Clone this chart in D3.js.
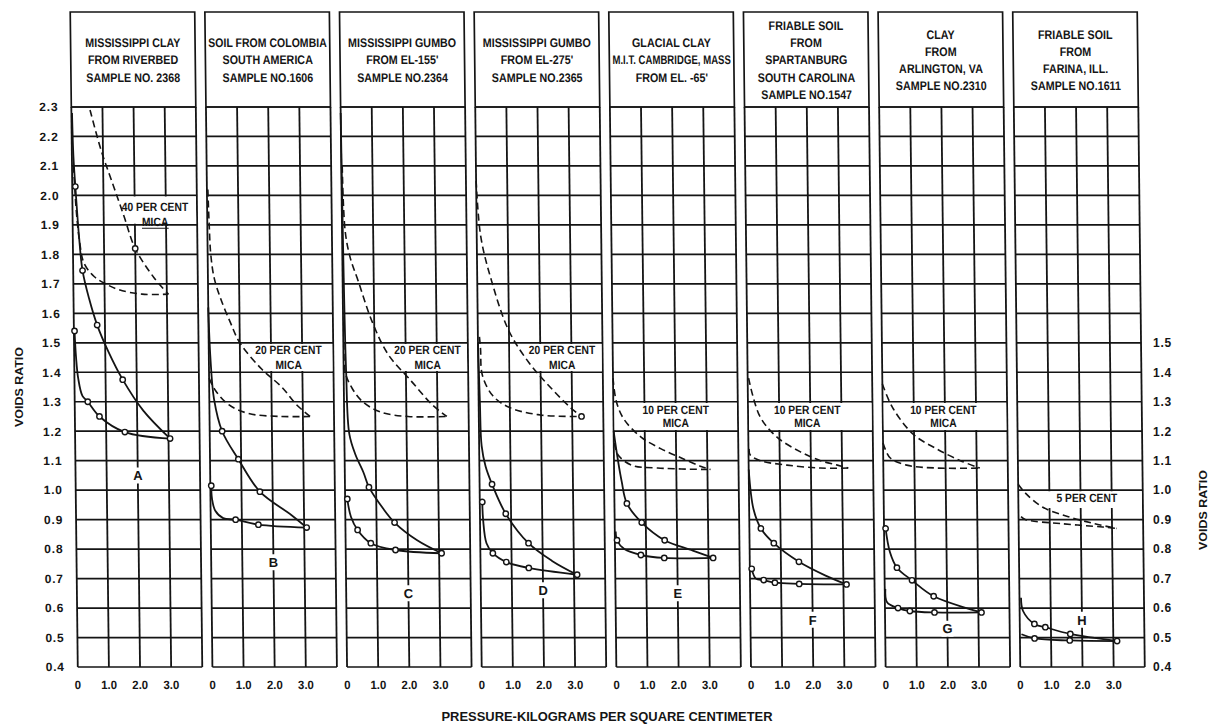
<!DOCTYPE html>
<html><head><meta charset="utf-8">
<script src="https://cdn.jsdelivr.net/npm/d3@7"></script>
<style>
body{margin:0;background:#fff}
svg{display:block}
text{font-family:"Liberation Sans",Arial,sans-serif;fill:#151515}
</style>
</head><body>
<svg id="c" width="1208" height="724"></svg>
<script>
// ---------- data ----------
const panelTitles = [
  ["MISSISSIPPI CLAY","FROM RIVERBED","SAMPLE  NO. 2368"],
  ["SOIL FROM COLOMBIA","SOUTH AMERICA","SAMPLE NO.1606"],
  ["MISSISSIPPI GUMBO","FROM EL-155'","SAMPLE NO.2364"],
  ["MISSISSIPPI GUMBO","FROM EL-275'","SAMPLE NO.2365"],
  ["GLACIAL CLAY","M.I.T. CAMBRIDGE, MASS","FROM EL. -65'"],
  ["FRIABLE SOIL","FROM","SPARTANBURG","SOUTH CAROLINA","SAMPLE NO.1547"],
  ["CLAY","FROM","ARLINGTON, VA","SAMPLE  NO.2310"],
  ["FRIABLE SOIL","FROM","FARINA, ILL.","SAMPLE NO.1611"]
];
const sampleLetters = ["A","B","C","D","E","F","G","H"];
const micaLabels = [
  ["40 PER CENT","MICA"],["20 PER CENT","MICA"],["20 PER CENT","MICA"],["20 PER CENT","MICA"],
  ["10 PER CENT","MICA"],["10 PER CENT","MICA"],["10 PER CENT","MICA"],["5 PER CENT"]
];
const leftTicks = [2.3,2.2,2.1,2.0,1.9,1.8,1.7,1.6,1.5,1.4,1.3,1.2,1.1,1.0,0.9,0.8,0.7,0.6,0.5,0.4];
const rightTicks = [1.5,1.4,1.3,1.2,1.1,1.0,0.9,0.8,0.7,0.6,0.5,0.4];
const pressureTicks = [0,1,2,3];
const pressureTickLabels = ["0","1.0","2.0","3.0"];

// solid curves (natural soil): upper branch and lower branch, with the plotted circles
const solidUpper = [
  [[0.02,2.28],[0.05,2.13],[0.1,2.03],[0.2,1.86],[0.3,1.745],[0.5,1.65],[0.75,1.56],[1.1,1.47],[1.55,1.375],[2.2,1.27],[3.05,1.175]],
  [[0.0,1.62],[0.05,1.45],[0.15,1.31],[0.4,1.20],[0.91,1.105],[1.59,0.995],[2.6,0.915],[3.08,0.873]],
  [[0.0,2.28],[0.03,1.8],[0.08,1.4],[0.16,1.19],[0.35,1.12],[0.6,1.06],[0.77,1.01],[1.2,0.94],[1.58,0.89],[2.3,0.83],[3.08,0.786]],
  [[0.0,1.5],[0.04,1.3],[0.08,1.15],[0.2,1.08],[0.4,1.02],[0.83,0.92],[1.55,0.82],[2.3,0.76],[3.1,0.713]],
  [[0.0,1.2],[0.13,1.1],[0.24,1.03],[0.4,0.955],[0.87,0.89],[1.6,0.83],[2.5,0.795],[3.15,0.77]],
  [[0.0,1.07],[0.14,0.935],[0.37,0.87],[0.78,0.82],[1.58,0.757],[2.43,0.71],[3.1,0.68]],
  [[0.05,0.87],[0.18,0.79],[0.4,0.737],[0.88,0.694],[1.57,0.64],[3.1,0.585]],
  [[0.05,0.635],[0.11,0.59],[0.47,0.546],[0.82,0.535],[1.62,0.512],[3.12,0.488]]
];
const solidUpperMarks = [
  [[0.1,2.03],[0.3,1.745],[0.75,1.56],[1.55,1.375],[3.05,1.175]],
  [[0.4,1.20],[0.91,1.105],[1.59,0.995],[3.08,0.873]],
  [[0.77,1.01],[1.58,0.89],[3.08,0.786]],
  [[0.4,1.02],[0.83,0.92],[1.55,0.82],[3.1,0.713]],
  [[0.4,0.955],[0.87,0.89],[1.6,0.83],[3.15,0.77]],
  [[0.37,0.87],[0.78,0.82],[1.58,0.757],[3.1,0.68]],
  [[0.05,0.87],[0.4,0.737],[0.88,0.694],[1.57,0.64],[3.1,0.585]],
  [[0.47,0.546],[0.82,0.535],[1.62,0.512],[3.12,0.488]]
];
const solidLower = [
  [[0.02,1.54],[0.06,1.45],[0.12,1.38],[0.25,1.32],[0.42,1.30],[0.79,1.25],[1.6,1.197],[3.05,1.175]],
  [[0.03,1.015],[0.05,0.97],[0.15,0.93],[0.4,0.905],[0.8,0.90],[1.53,0.883],[3.08,0.873]],
  [[0.07,0.97],[0.18,0.91],[0.39,0.865],[0.81,0.82],[1.6,0.797],[3.08,0.786]],
  [[0.08,0.96],[0.1,0.9],[0.2,0.82],[0.4,0.786],[0.83,0.756],[1.55,0.736],[3.1,0.713]],
  [[0.03,0.86],[0.07,0.83],[0.3,0.80],[0.83,0.78],[1.58,0.77],[3.15,0.77]],
  [[0.06,0.733],[0.19,0.70],[0.44,0.695],[0.8,0.686],[1.58,0.682],[3.1,0.68]],
  [[0.02,0.665],[0.07,0.62],[0.42,0.60],[0.8,0.59],[1.59,0.585],[3.1,0.585]],
  [[0.05,0.511],[0.47,0.497],[1.6,0.49],[3.12,0.488]]
];
const solidLowerMarks = [
  [[0.02,1.54],[0.42,1.30],[0.79,1.25],[1.6,1.197]],
  [[0.03,1.015],[0.8,0.90],[1.53,0.883]],
  [[0.07,0.97],[0.39,0.865],[0.81,0.82],[1.6,0.797]],
  [[0.08,0.96],[0.4,0.786],[0.83,0.756],[1.55,0.736]],
  [[0.07,0.83],[0.83,0.78],[1.58,0.77]],
  [[0.06,0.733],[0.44,0.695],[0.8,0.686],[1.58,0.682]],
  [[0.42,0.60],[0.8,0.59],[1.59,0.585]],
  [[0.47,0.497],[1.6,0.49]]
];
// dashed curves (soil with mica)
const micaUpper = [
  [[0.6,2.29],[0.95,2.15],[1.3,2.04],[1.65,1.93],[2.0,1.82],[2.6,1.72],[3.05,1.665]],
  [[0.03,2.02],[0.06,1.9],[0.1,1.8],[0.2,1.72],[0.4,1.65],[0.7,1.57],[1.0,1.5],[1.7,1.41],[2.33,1.35],[2.8,1.29],[3.23,1.25]],
  [[0.03,2.1],[0.1,1.88],[0.25,1.79],[0.5,1.71],[0.94,1.57],[1.44,1.46],[2.17,1.37],[2.83,1.29],[3.3,1.25]],
  [[0.0,2.05],[0.13,1.86],[0.46,1.71],[1.0,1.54],[1.65,1.43],[2.3,1.35],[2.95,1.28],[3.3,1.25]],
  [[0.0,1.38],[0.1,1.3],[0.34,1.24],[0.88,1.18],[1.52,1.14],[2.15,1.11],[2.8,1.08],[3.1,1.07]],
  [[0.03,1.38],[0.38,1.25],[0.92,1.18],[1.67,1.13],[2.31,1.10],[2.85,1.085],[3.2,1.075]],
  [[0.0,1.36],[0.32,1.28],[0.97,1.19],[1.72,1.14],[2.48,1.10],[3.1,1.075]],
  [[0.0,1.02],[0.23,0.99],[0.77,0.943],[1.6,0.91],[2.45,0.886],[3.15,0.87]]
];
const micaLower = [
  [[0.05,2.1],[0.12,1.95],[0.22,1.84],[0.35,1.77],[0.67,1.725],[1.04,1.70],[1.46,1.68],[2.2,1.665],[3.05,1.665]],
  [[0.0,1.38],[0.19,1.34],[0.62,1.29],[1.26,1.26],[2.3,1.25],[3.23,1.25]],
  [[0.02,1.5],[0.05,1.40],[0.27,1.345],[0.6,1.30],[1.17,1.265],[2.05,1.25],[3.3,1.25]],
  [[0.05,1.52],[0.08,1.48],[0.13,1.39],[0.46,1.32],[1.0,1.28],[1.98,1.255],[3.3,1.25]],
  [[0.02,1.16],[0.13,1.12],[0.56,1.085],[1.4,1.075],[3.1,1.07]],
  [[0.02,1.14],[0.05,1.12],[0.38,1.10],[1.23,1.085],[2.3,1.075],[3.2,1.075]],
  [[0.0,1.16],[0.22,1.11],[0.75,1.085],[1.72,1.075],[3.1,1.075]],
  [[0.08,0.91],[0.23,0.90],[1.4,0.886],[2.7,0.875],[3.15,0.87]]
];
const micaMarks = [[[2.0,1.82]],[],[],[[3.3,1.25]],[],[],[],[]];

// ---------- layout ----------
const W = 1208, H = 724;
const headerTop = 12;
const panelX = d3.scaleLinear().domain([0,7]).range([74,1016.5]);
const px = d3.scaleLinear().domain([0,4]).range([0,124.5]);
const y = d3.scaleLinear().domain([0.4,2.3]).range([667,107]);
const INK = "#141414";

// annotation placement (pressure, voids) per panel
const micaBox = [[1.35,4,2.0,1.9],[1.3,4,1.5,1.4],[1.3,4,1.5,1.4],[1.0,4,1.5,1.4],[0,4,1.3,1.2],[0,4,1.3,1.2],[0,4,1.3,1.2],[0.9,4,1.0,0.935]];
const micaTextPos = [[2.65,1.963,1.91],[2.56,1.478,1.425],[2.7,1.478,1.425],[2.7,1.478,1.425],[2.0,1.272,1.228],[1.9,1.272,1.228],[1.95,1.272,1.228],[2.2,0.975]];
const letterPos = [1.05,0.755,0.65,0.66,0.65,0.56,0.53,0.56];

const svg = d3.select("#c");
svg.append("rect").attr("width",W).attr("height",H).attr("fill","#fff");
const g = svg.append("g").attr("transform","translate(0,340) skewX(0.66) translate(0,-340)");

function condense(sel, k, maxW){
  sel.each(function(){
    const w = this.getComputedTextLength();
    let t = w*k; if (maxW && t>maxW) t = maxW;
    d3.select(this).attr("textLength",t).attr("lengthAdjust","spacingAndGlyphs");
  });
}

const line = d3.line().x(d=>px(d[0])).y(d=>y(d[1])).curve(d3.curveCatmullRom.alpha(0.5));

panelTitles.forEach((title,i)=>{
  const pg = g.append("g").attr("transform",`translate(${panelX(i)},0)`);
  const w = px(4);
  // grid
  pg.selectAll("line.h").data(leftTicks).join("line")
    .attr("x1",0).attr("x2",w).attr("y1",d=>y(d)).attr("y2",d=>y(d))
    .attr("stroke",INK).attr("stroke-width",1.7);
  pg.selectAll("line.v").data([0,1,2,3,4]).join("line")
    .attr("x1",d=>px(d)).attr("x2",d=>px(d)).attr("y1",y(2.3)).attr("y2",y(0.4))
    .attr("stroke",INK).attr("stroke-width",1.8);
  // header box
  pg.append("rect").attr("x",0).attr("y",headerTop).attr("width",w).attr("height",y(2.3)-headerTop)
    .attr("fill","none").attr("stroke",INK).attr("stroke-width",1.7);
  // header text
  const n = title.length, lh = 17.3, cy = 60;
  const ht = pg.selectAll("text.hd").data(title).join("text")
    .attr("x",px(2)).attr("y",(d,k)=>cy+(k-(n-1)/2)*lh).attr("dy","0.36em")
    .attr("text-anchor","middle").attr("font-size",12.5).attr("font-weight","bold")
    .text(d=>d);
  condense(ht,0.86,w-6);

  // mica label box
  const b = micaBox[i];
  pg.append("rect").attr("x",px(b[0])+1).attr("width",px(b[1])-px(b[0])-2)
    .attr("y",y(b[2])+1.2).attr("height",y(b[3])-y(b[2])-2.4).attr("fill","#fff");
  const mt = micaTextPos[i];
  micaLabels[i].forEach((s,k)=>{
    const t = pg.append("text").attr("x",px(mt[0])).attr("y",y(mt[1+k])).attr("dy","0.36em")
      .attr("text-anchor","middle").attr("font-size",12).attr("font-weight","bold").text(s);
    condense(t,0.86);
    if (i===0 && k===1){
      const bb = t.node().getBBox();
      pg.append("line").attr("x1",bb.x).attr("x2",bb.x+bb.width).attr("y1",bb.y+bb.height-1).attr("y2",bb.y+bb.height-1)
        .attr("stroke",INK).attr("stroke-width",1.2);
    }
  });

  // sample letter
  pg.append("rect").attr("x",px(2)-6).attr("width",12).attr("y",y(letterPos[i])-8).attr("height",16).attr("fill","#fff");
  pg.append("text").attr("x",px(2)).attr("y",y(letterPos[i])).attr("dy","0.36em")
    .attr("text-anchor","middle").attr("font-size",13).attr("font-weight","bold").text(sampleLetters[i]);

  // curves
  [micaUpper[i],micaLower[i]].forEach(c=>{
    pg.append("path").attr("d",line(c)).attr("fill","none").attr("stroke",INK)
      .attr("stroke-width",1.6).attr("stroke-dasharray","7,4");
  });
  [solidUpper[i],solidLower[i]].forEach(c=>{
    pg.append("path").attr("d",line(c)).attr("fill","none").attr("stroke",INK).attr("stroke-width",1.8);
  });
  const marks = solidUpperMarks[i].concat(solidLowerMarks[i], micaMarks[i]);
  pg.selectAll("circle").data(marks).join("circle")
    .attr("cx",d=>px(d[0])).attr("cy",d=>y(d[1])).attr("r",2.7)
    .attr("fill","#fff").attr("stroke",INK).attr("stroke-width",1.4);

  // pressure tick labels
  const xt = pg.selectAll("text.xt").data(pressureTicks).join("text")
    .attr("x",d=>px(d)).attr("y",689).attr("text-anchor","middle").attr("font-size",12).attr("font-weight","bold")
    .text((d,k)=>pressureTickLabels[k]);
  condense(xt,0.95);
});

// left tick labels
g.selectAll("text.yl").data(leftTicks).join("text")
  .attr("x",panelX(0)-13).attr("y",d=>y(d)).attr("dy","0.36em").attr("text-anchor","end")
  .attr("font-size",12).attr("font-weight","bold").attr("letter-spacing",0.8).text(d=>d3.format(".1f")(d));

// right tick labels
svg.selectAll("text.yr").data(rightTicks).join("text")
  .attr("x",1153).attr("y",d=>y(d)).attr("dy","0.36em").attr("text-anchor","start")
  .attr("font-size",12).attr("font-weight","bold").attr("letter-spacing",0.8).text(d=>d3.format(".1f")(d));

// axis titles
svg.append("text").attr("transform","translate(23,387) rotate(-90)").attr("text-anchor","middle")
  .attr("font-size",11.5).attr("font-weight","bold").attr("textLength",80).attr("lengthAdjust","spacingAndGlyphs").text("VOIDS RATIO");
svg.append("text").attr("transform","translate(1207,510) rotate(-90)").attr("text-anchor","middle")
  .attr("font-size",11.5).attr("font-weight","bold").attr("textLength",80).attr("lengthAdjust","spacingAndGlyphs").text("VOIDS RATIO");
svg.append("text").attr("x",607).attr("y",721).attr("text-anchor","middle").attr("font-size",12).attr("font-weight","bold")
  .attr("textLength",331).attr("lengthAdjust","spacingAndGlyphs")
  .text("PRESSURE-KILOGRAMS PER SQUARE CENTIMETER");
</script>
</body></html>
